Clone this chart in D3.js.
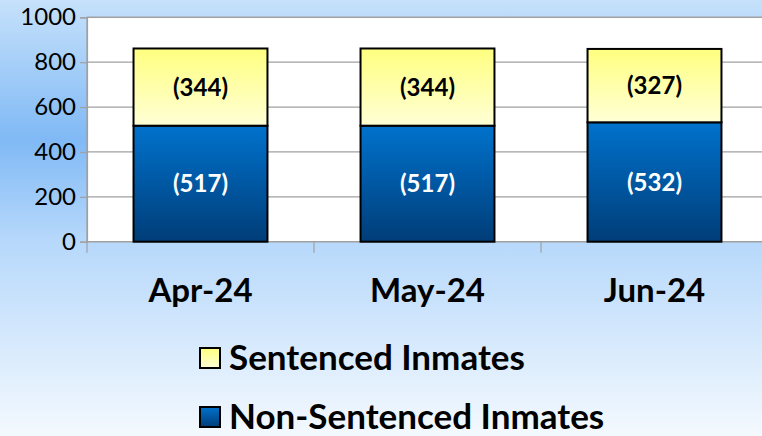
<!DOCTYPE html>
<html>
<head>
<meta charset="utf-8">
<script src="https://cdn.jsdelivr.net/npm/d3@7"></script>
<style>
  html, body { margin: 0; padding: 0; overflow: hidden; }
  svg { display: block; font-family: Lato, "Open Sans", sans-serif; }
</style>
</head>
<body>
<script>
const months = ["Apr-24", "May-24", "Jun-24"];
const nonSentenced = [517, 517, 532];
const sentenced = [344, 344, 327];
const yTicks = [0, 200, 400, 600, 800, 1000];
const seriesNames = ["Sentenced Inmates", "Non-Sentenced Inmates"];

const width = 762, height = 436;
const plot = { left: 87, right: 768, top: 17.3, bottom: 241.7 };

const svg = d3.select("body").append("svg")
    .attr("width", width)
    .attr("height", height);

const defs = svg.append("defs");

const bg = defs.append("linearGradient").attr("id", "bg")
    .attr("x1", 0).attr("y1", 0).attr("x2", 0).attr("y2", 1);
[[0, "#c6e1fb"], [0.32, "#80b9f5"], [0.55, "#b6d8fb"], [1, "#f4f9fe"]]
    .forEach(([o, c]) => bg.append("stop").attr("offset", o).attr("stop-color", c));

const yel = defs.append("linearGradient").attr("id", "yel")
    .attr("x1", 0).attr("y1", 0).attr("x2", 0).attr("y2", 1);
yel.append("stop").attr("offset", 0).attr("stop-color", "#ffff80");
yel.append("stop").attr("offset", 1).attr("stop-color", "#ffffd6");

const blu = defs.append("linearGradient").attr("id", "blu")
    .attr("x1", 0).attr("y1", 0).attr("x2", 0).attr("y2", 1);
blu.append("stop").attr("offset", 0).attr("stop-color", "#0072cc");
blu.append("stop").attr("offset", 1).attr("stop-color", "#003d78");

svg.append("rect").attr("width", width).attr("height", height).attr("fill", "url(#bg)");

const x = d3.scaleBand()
    .domain(months)
    .range([plot.left, plot.right])
    .paddingInner(0.41)
    .paddingOuter(0.205);

const y = d3.scaleLinear()
    .domain([0, 1000])
    .range([plot.bottom, plot.top]);

// plot area
svg.append("rect")
    .attr("x", plot.left).attr("y", plot.top)
    .attr("width", plot.right - plot.left).attr("height", plot.bottom - plot.top)
    .attr("fill", "#fff")
    .attr("stroke", "#a0a0a0").attr("stroke-width", 1.2);

// y axis with gridlines
const yAxis = svg.append("g")
    .attr("transform", `translate(${plot.left},0)`)
    .call(d3.axisLeft(y).tickValues(yTicks).tickFormat(d3.format("d")).tickSize(7).tickPadding(4));
yAxis.select(".domain").attr("stroke", "#a0a0a0").attr("stroke-width", 1.2);
yAxis.selectAll(".tick line").attr("stroke", "#a0a0a0").attr("stroke-width", 1.2);
yAxis.selectAll(".tick text")
    .attr("font-size", 24).attr("fill", "#000")
    .attr("font-family", "Lato, sans-serif");

svg.append("g")
    .selectAll("line")
    .data(yTicks)
    .join("line")
    .attr("x1", plot.left).attr("x2", plot.right)
    .attr("y1", d => y(d)).attr("y2", d => y(d))
    .attr("stroke", "#a0a0a0").attr("stroke-width", 1.2);

// category separator ticks
const step = x.step();
svg.append("g")
    .selectAll("line")
    .data(d3.range(months.length + 1))
    .join("line")
    .attr("x1", i => plot.left + i * step).attr("x2", i => plot.left + i * step)
    .attr("y1", plot.bottom).attr("y2", plot.bottom + 11)
    .attr("stroke", "#a0a0a0").attr("stroke-width", 1.2);

// bars
const bars = svg.append("g");
months.forEach((m, i) => {
    const bx = x(m), bw = x.bandwidth();
    const ns = nonSentenced[i], s = sentenced[i];
    bars.append("rect")
        .attr("x", bx).attr("y", y(ns))
        .attr("width", bw).attr("height", y(0) - y(ns))
        .attr("fill", "url(#blu)").attr("stroke", "#000").attr("stroke-width", 2);
    bars.append("rect")
        .attr("x", bx).attr("y", y(ns + s))
        .attr("width", bw).attr("height", y(ns) - y(ns + s))
        .attr("fill", "url(#yel)").attr("stroke", "#000").attr("stroke-width", 2);
    bars.append("text")
        .attr("x", bx + bw / 2).attr("y", (y(0) + y(ns)) / 2)
        .attr("dy", "0.36em")
        .attr("text-anchor", "middle")
        .attr("font-size", 24).attr("font-weight", "bold").attr("fill", "#fff")
        .text(`(${ns})`);
    bars.append("text")
        .attr("x", bx + bw / 2).attr("y", (y(ns) + y(ns + s)) / 2)
        .attr("dy", "0.36em")
        .attr("text-anchor", "middle")
        .attr("font-size", 24).attr("font-weight", "bold").attr("fill", "#000")
        .text(`(${s})`);
});

// category labels
svg.append("g")
    .selectAll("text")
    .data(months)
    .join("text")
    .attr("x", d => x(d) + x.bandwidth() / 2)
    .attr("y", 302)
    .attr("text-anchor", "middle")
    .attr("font-size", 33).attr("font-weight", "bold")
    .text(d => d);

// legend
const legend = svg.append("g");
const legendFills = ["url(#yel)", "url(#blu)"];
const legendY = [358, 417];
seriesNames.forEach((name, i) => {
    legend.append("rect")
        .attr("x", 200).attr("y", legendY[i] - 10)
        .attr("width", 20).attr("height", 20)
        .attr("fill", legendFills[i]).attr("stroke", "#000").attr("stroke-width", 2);
    legend.append("text")
        .attr("x", 229).attr("y", legendY[i])
        .attr("dy", "0.34em")
        .attr("font-size", 35).attr("font-weight", "bold")
        .text(name);
});
</script>
</body>
</html>
